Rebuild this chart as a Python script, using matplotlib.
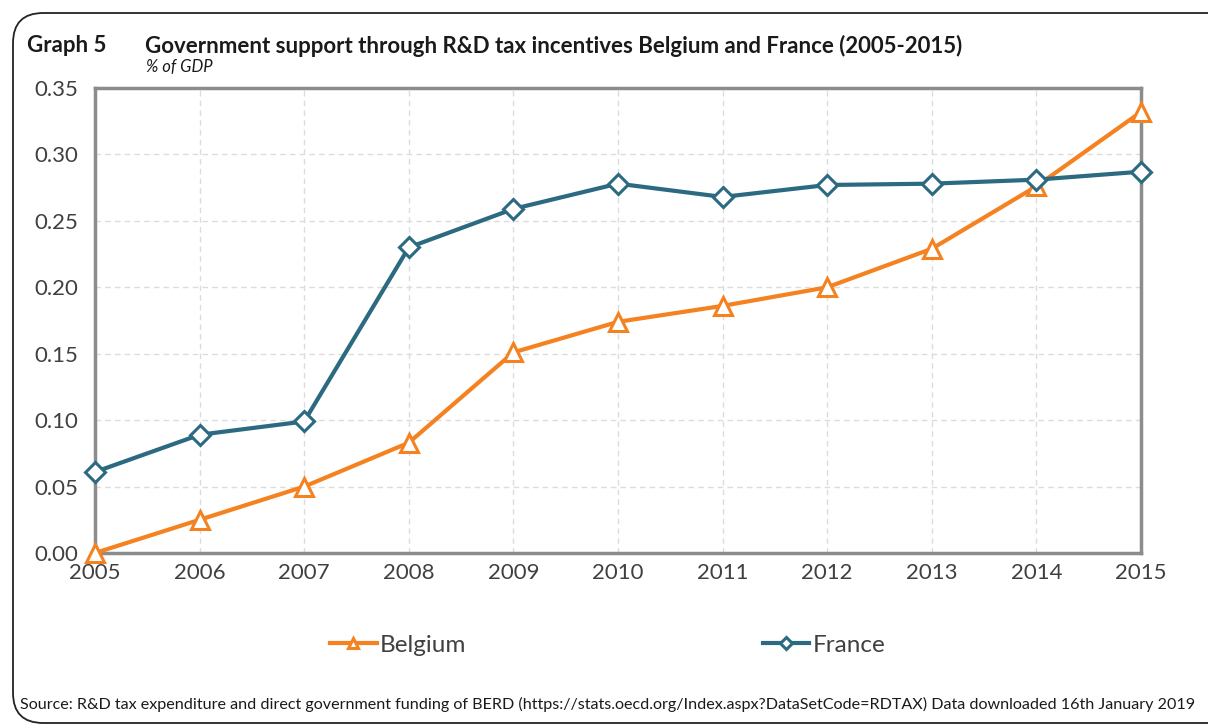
import matplotlib.pyplot as plt
from matplotlib.patches import FancyBboxPatch

plt.rcParams['font.family'] = ['Lato', 'DejaVu Sans']

years = [2005, 2006, 2007, 2008, 2009, 2010, 2011, 2012, 2013, 2014, 2015]
belgium = [0.000, 0.025, 0.050, 0.083, 0.151, 0.174, 0.186, 0.200, 0.229, 0.276, 0.332]
france = [0.061, 0.089, 0.099, 0.230, 0.259, 0.278, 0.268, 0.277, 0.278, 0.281, 0.287]
yticks = [0.0, 0.05, 0.10, 0.15, 0.20, 0.25, 0.30, 0.35]

orange = '#F58220'
teal = '#2B6A80'
txt = '#404040'

fig = plt.figure(figsize=(12.08, 7.28), dpi=100)
ax = fig.add_axes([95/1208, 1-553/728, (1141-95)/1208, (553-88)/728])

# rounded frame
frame = FancyBboxPatch((13/1208, 5/728), 1.2, 1-18/728, boxstyle='round,pad=0,rounding_size=0.025',
                       transform=fig.transFigure, fill=False, edgecolor='#222222', linewidth=1.3,
                       mutation_aspect=1208/728)
fig.patches.append(frame)

ax.plot(years, belgium, color=orange, lw=3, marker='^', ms=13, mfc='white', mec=orange, mew=2.2,
        label='Belgium', zorder=3, clip_on=False)
ax.plot(years, france, color=teal, lw=3, marker='D', ms=10, mfc='white', mec=teal, mew=2.2,
        label='France', zorder=4, clip_on=False)

ax.set_xlim(2005, 2015)
ax.set_ylim(0, 0.35)
ax.set_xticks(years)
ax.set_yticks(yticks)
ax.set_yticklabels(['%.2f' % v for v in yticks])
ax.tick_params(length=0, labelsize=16, colors=txt)
ax.tick_params(axis='y', pad=12)
ax.tick_params(axis='x', pad=7)
ax.grid(True, color='#dcdcdc', linestyle=(0, (4, 3)), linewidth=1)
ax.set_axisbelow(True)
for s in ax.spines.values():
    s.set_color('#8c8c8c')
    s.set_linewidth(2.5)
    s.set_zorder(2)

fig.text(27/1208, 1-46/728, 'Graph 5', fontsize=16, fontweight='bold', color='#1a1a1a', va='center')
fig.text(145/1208, 1-46/728,
         'Government support through R&D tax incentives Belgium and France (2005-2015)',
         fontsize=16, fontweight='bold', color='#1a1a1a', va='center')
fig.text(146/1208, 1-67/728, '% of GDP', fontsize=12, style='italic', color='#1a1a1a', va='center')

fig.legend(loc='center', bbox_to_anchor=(608/1208, 1-645/728), ncol=2, frameon=False,
           fontsize=17.5, columnspacing=12.2, handlelength=1.9, handletextpad=0.15,
           markerscale=0.6, labelcolor=txt)

fig.text(20/1208, 1-704/728,
         'Source: R&D tax expenditure and direct government funding of BERD '
         '(https://stats.oecd.org/Index.aspx?DataSetCode=RDTAX) Data downloaded 16th January 2019',
         fontsize=11.6, color='#1a1a1a', va='center')

fig.savefig('out.png', dpi=100)
